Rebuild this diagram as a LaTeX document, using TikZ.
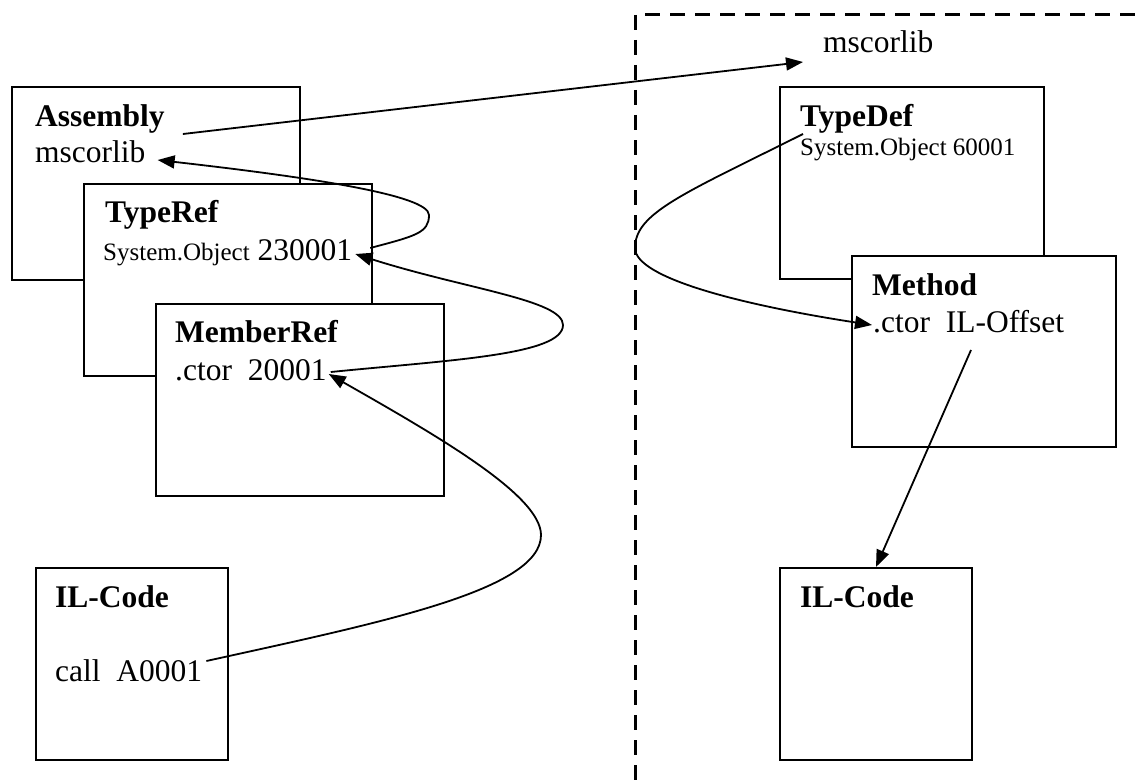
\documentclass[tikz,border=0pt]{standalone}
\usepackage{fontspec}
\setmainfont{Liberation Serif}
\usetikzlibrary{arrows.meta,calc}
\tikzset{
  tbl/.style={draw,line width=2pt,fill=white,anchor=north west,inner sep=0pt},
  head/.style={anchor=base west,inner sep=0pt,font=\fontsize{31.5}{37}\selectfont\bfseries},
  entry/.style={anchor=base west,inner sep=0pt,font=\fontsize{31.5}{37}\selectfont},
  minor/.style={anchor=base west,inner sep=0pt,font=\fontsize{25}{30}\selectfont},
  ref/.style={line width=1.8pt,-{Triangle[length=17pt,width=13pt]}},
  border/.style={line width=3pt,dash pattern=on 15pt off 10pt}
}
\newcommand{\sm}[1]{{\fontsize{25}{30}\selectfont #1}}

\begin{document}
\begin{tikzpicture}[x=1pt,y=-1pt]
  \useasboundingbox (0,0) rectangle (1137,781);
  % module boundary of mscorlib
  \coordinate (corner) at (635,15);
  \draw[border] (corner) -- (635,781);
  \draw[border] ($(corner)+(10,0)$) -- (1137,15);
  \node[entry] (libr) at (823,53) {mscorlib};

  % calling module
  \node[tbl,minimum width=288pt,minimum height=193pt] (asm) at (11,86) {};
  \node[head] (asmtitle) at (35,127) {Assembly};
  \node[entry] (asmlib) at (35,162) {mscorlib};
  \node[tbl,minimum width=288pt,minimum height=192pt] (tref) at (83,183) {};
  \node[head] (trtitle) at (105,222) {TypeRef};
  \node[entry] (trkey) at (103,260) {\sm{System.Object} 230001};
  \node[tbl,minimum width=288pt,minimum height=192pt] (mref) at (155,303) {};
  \node[head] (mrtitle) at (175,342) {MemberRef};
  \node[entry] (mrkey) at (175,380) {.ctor\ \ 20001};
  \node[tbl,minimum width=192pt,minimum height=192pt] (ilcl) at (35,567) {};
  \node[head] (illtitle) at (55,607) {IL-Code};
  \node[entry] (ilcall) at (55,681) {call\ \ A0001};

  % defining module
  \node[tbl,minimum width=264pt,minimum height=192pt] (tdef) at (779,86) {};
  \node[head] (tdtitle) at (800,127) {TypeDef};
  \node[minor] (tdkey) at (800,155) {System.Object 60001};
  \node[tbl,minimum width=264pt,minimum height=191pt] (meth) at (851,255) {};
  \node[head] (mtitle) at (872,295) {Method};
  \node[entry] (mkey) at (873,332) {.ctor\ \ IL-Offset};
  \node[tbl,minimum width=192pt,minimum height=192pt] (ilcr) at (779,567) {};
  \node[head] (ilrtitle) at (800,607) {IL-Code};

  % resolution chain
  \coordinate (asmout) at ($(asmtitle.base east)+(18,7)$);
  \draw[ref] (asmout) -- ($(libr.base west)+(-20,9)$);
  \draw[ref] ($(trkey.base east)+(18,-12)$) .. controls +(45,-12) and +(0,18) .. (429,215)
    .. controls +(0,-20) and +(150,17) .. ($(asmlib.base east)+(12,-2)$);
  \draw[ref] ($(mrkey.base east)+(4,-8)$) .. controls +(120,-12) and +(0,30) .. (563,325)
    .. controls +(0,-25) and +(110,35) .. ($(trkey.base east)+(3,-6)$);
  \draw[ref] ($(ilcall.base east)+(4,-20)$) .. controls +(177,-39) and +(0,55) .. (541,535)
    .. controls +(0,-40) and +(107,61) .. ($(mrkey.base east)+(2,-6)$);
  \draw[ref] ($(tdkey.base west)+(3,-21)$) .. controls +(-120,60) and +(0,-35) .. (635,248)
    .. controls +(0,30) and +(-130,-20) .. ($(mkey.base west)+(-1,-7)$);
  \coordinate (mout) at ($(mkey.base west)+(98,18)$);
  \draw[ref] (mout) -- (ilcr.north);
\end{tikzpicture}
\end{document}
